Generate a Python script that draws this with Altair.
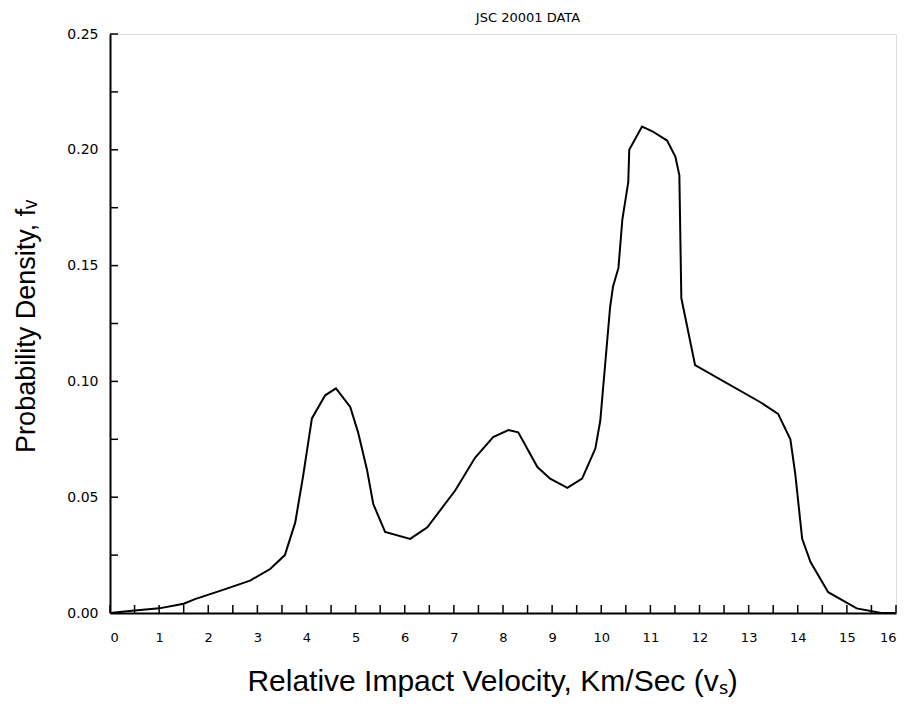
import altair as alt
import pandas as pd

velocity = [0.00, 0.45, 1.00, 1.50, 1.73, 2.30, 2.85, 3.26, 3.56, 3.77, 3.93,
            4.11, 4.38, 4.60, 4.89, 5.05, 5.23, 5.36, 5.60, 6.11, 6.46, 7.03,
            7.43, 7.80, 8.11, 8.31, 8.70, 8.96, 9.31, 9.61, 9.88, 9.98, 10.18,
            10.24, 10.35, 10.43, 10.55, 10.57, 10.83, 11.04, 11.34, 11.51,
            11.59, 11.63, 11.91, 13.24, 13.60, 13.85, 13.95, 14.09, 14.26,
            14.62, 15.20, 15.70, 16.00]
density = [0.000, 0.001, 0.002, 0.004, 0.006, 0.010, 0.014, 0.019, 0.025, 0.039,
           0.059, 0.084, 0.094, 0.097, 0.089, 0.078, 0.062, 0.047, 0.035, 0.032,
           0.037, 0.053, 0.067, 0.076, 0.079, 0.078, 0.063, 0.058, 0.054, 0.058,
           0.071, 0.083, 0.132, 0.141, 0.149, 0.170, 0.186, 0.200, 0.210, 0.208,
           0.204, 0.197, 0.189, 0.136, 0.107, 0.091, 0.086, 0.075, 0.060, 0.032,
           0.022, 0.009, 0.002, 0.000, 0.000]

x_ticks = [i * 0.5 for i in range(33)]
y_ticks = [i * 0.025 for i in range(11)]
x_labels = list(range(17))
y_labels = [0.0, 0.05, 0.10, 0.15, 0.20, 0.25]
chart_title = ["JSC 20001 DATA"]

W, H = 786, 579

df = pd.DataFrame({"v": velocity, "f": density})
xt = pd.DataFrame({"v": x_ticks})
yt = pd.DataFrame({"f": y_ticks})
tt = pd.DataFrame({"t": chart_title})

xscale = alt.Scale(domain=[0, 16], nice=False, zero=False)
yscale = alt.Scale(domain=[0, 0.25], nice=False, zero=False)

tick_font = "DejaVu Sans"
title_font = "Liberation Sans"

line = alt.Chart(df).mark_line(color="black", strokeWidth=2).encode(
    x=alt.X("v:Q", scale=xscale,
            axis=alt.Axis(values=x_labels, format="d", grid=False, ticks=False,
                          domainColor="black", domainWidth=2,
                          labelFont=tick_font, labelFontSize=13, labelColor="black",
                          labelPadding=18,
                          title="Relative Impact Velocity, Km/Sec (vₛ)",
                          titleFont=title_font, titleFontSize=30,
                          titleFontWeight="normal", titleColor="black",
                          titleX=382, titlePadding=22)),
    y=alt.Y("f:Q", scale=yscale,
            axis=alt.Axis(values=y_labels, format=".2f", grid=False, ticks=False,
                          domainColor="black", domainWidth=2,
                          labelFont=tick_font, labelFontSize=14, labelColor="black",
                          labelPadding=12,
                          title="Probability Density, fᵥ",
                          titleFont=title_font, titleFontSize=27,
                          titleFontWeight="normal", titleColor="black",
                          titleX=-70, titleY=292)),
)

xtick_marks = alt.Chart(xt).mark_rule(color="black", strokeWidth=1.5).encode(
    x=alt.X("v:Q", scale=xscale),
    y=alt.value(H),
    y2=alt.value(H - 8),
)

ytick_marks = alt.Chart(yt).mark_rule(color="black", strokeWidth=1.5).encode(
    y=alt.Y("f:Q", scale=yscale),
    x=alt.value(0),
    x2=alt.value(8),
)

title_mark = alt.Chart(tt).mark_text(font=tick_font, fontSize=13, color="black",
                                     align="center", baseline="middle").encode(
    text="t:N",
    x=alt.value(418),
    y=alt.value(-16),
)

chart = alt.layer(line, xtick_marks, ytick_marks, title_mark).properties(
    width=W,
    height=H,
    autosize=alt.AutoSizeParams(type="none"),
    padding={"left": 102, "top": 26, "right": 10, "bottom": 93},
).configure_view(stroke=None).configure(background="white")

chart.save("out.html", embed_options={"renderer": "svg", "actions": False})
